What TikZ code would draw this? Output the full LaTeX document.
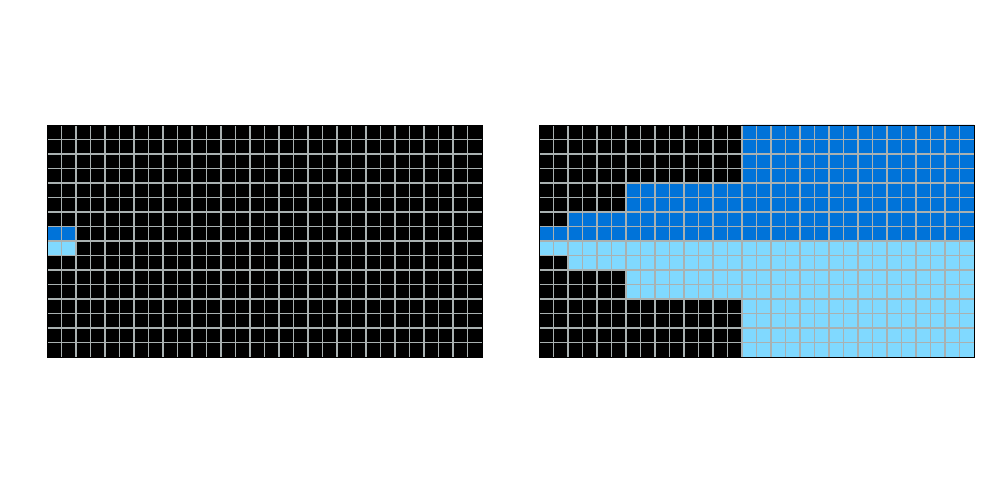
\documentclass[tikz,border=0pt]{standalone}
\definecolor{deepblue}{HTML}{0073D9}
\definecolor{paleblue}{HTML}{80D9FF}
\definecolor{gridgray}{HTML}{A9B1B1}
\begin{document}
\begin{tikzpicture}[
  boardunit/.style={x=0.29cm, y=0.29cm},
  gridline/.style={draw=gridgray, line width=0.9pt},
  frame/.style={draw=black, line width=0.5pt}
]
\useasboundingbox (0,0) rectangle (20,10);
% left board: only the seed cells
\begin{scope}[boardunit, shift={(0.94cm,2.86cm)}]
  \fill[black] (0,0) rectangle (30,16);
  \fill[deepblue] (0,8) rectangle (2,9);
  \fill[paleblue] (0,7) rectangle (2,8);
  \foreach \i in {1,...,29} \draw[gridline] (\i,0) -- (\i,16);
  \foreach \j in {1,...,15} \draw[gridline] (0,\j) -- (30,\j);
  \draw[frame] (0,0) rectangle (30,16);
\end{scope}
% right board: grown regions
\begin{scope}[boardunit, shift={(10.78cm,2.86cm)}]
  \fill[black] (0,0) rectangle (30,16);
  \fill[deepblue] (14,16) -- (30,16) -- (30,8) -- (0,8) -- (0,9) -- (2,9)
    -- (2,10) -- (6,10) -- (6,12) -- (14,12) -- cycle;
  \fill[paleblue] (0,8) -- (30,8) -- (30,0) -- (14,0) -- (14,4) -- (6,4)
    -- (6,6) -- (2,6) -- (2,7) -- (0,7) -- cycle;
  \foreach \i in {1,...,29} \draw[gridline] (\i,0) -- (\i,16);
  \foreach \j in {1,...,15} \draw[gridline] (0,\j) -- (30,\j);
  \draw[frame] (0,0) rectangle (30,16);
\end{scope}
\end{tikzpicture}
\end{document}
